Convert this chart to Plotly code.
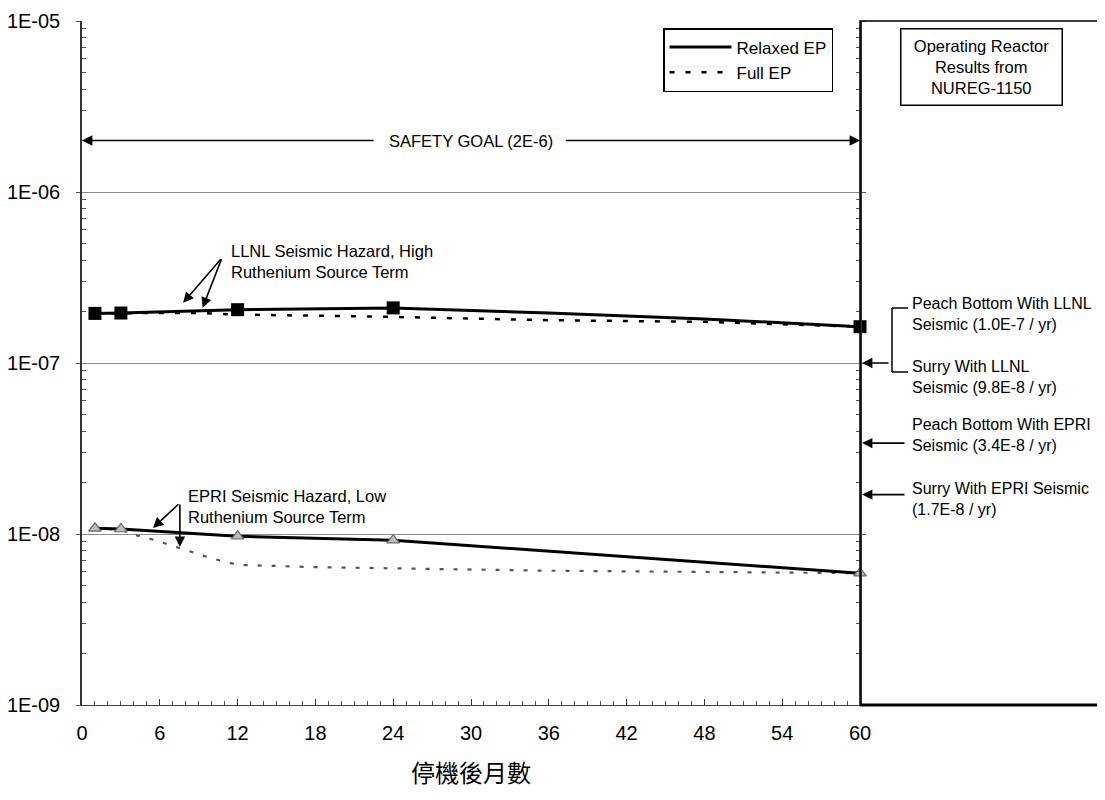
import math
import plotly.graph_objects as go

# ---------------- data ----------------
# Upper group: LLNL seismic hazard, high ruthenium source term
llnl_relaxed_months = [1, 3, 12, 24, 36, 48, 60]
llnl_relaxed_vals = [1.95e-7, 1.96e-7, 2.05e-7, 2.10e-7, 1.96e-7, 1.81e-7, 1.63e-7]
llnl_marker_months = [1, 3, 12, 24, 60]
llnl_marker_vals = [1.95e-7, 1.96e-7, 2.05e-7, 2.10e-7, 1.63e-7]
llnl_full_months = [1, 3, 6, 9, 12, 24, 36, 48, 54, 60]
llnl_full_vals = [1.95e-7, 1.96e-7, 1.96e-7, 1.96e-7, 1.92e-7, 1.86e-7, 1.78e-7, 1.74e-7, 1.69e-7, 1.63e-7]

# Lower group: EPRI seismic hazard, low ruthenium source term
epri_relaxed_months = [1, 3, 12, 24, 60]
epri_relaxed_vals = [1.08e-8, 1.07e-8, 9.7e-9, 9.2e-9, 5.9e-9]
epri_full_months = [1, 3, 4, 5, 6, 7, 8, 9, 10, 11, 12, 18, 24, 36, 48, 60]
epri_full_vals = [1.08e-8, 1.06e-8, 9.9e-9, 9.5e-9, 9.0e-9, 8.5e-9, 8.1e-9, 7.6e-9,
                  7.2e-9, 6.9e-9, 6.6e-9, 6.4e-9, 6.3e-9, 6.1e-9, 6.0e-9, 5.9e-9]

safety_goal = 2e-6
nureg_labels = [
    "Peach Bottom With LLNL<br>Seismic (1.0E-7 / yr)",
    "Surry With LLNL<br>Seismic (9.8E-8 / yr)",
    "Peach Bottom With EPRI<br>Seismic (3.4E-8 / yr)",
    "Surry With EPRI Seismic<br>(1.7E-8 / yr)",
]
nureg_arrow_vals = [1.0e-7, 3.4e-8, 1.7e-8]

x_ticks = list(range(0, 61, 6))
y_decades = [1e-9, 1e-8, 1e-7, 1e-6, 1e-5]
y_decade_text = ["1E-09", "1E-08", "1E-07", "1E-06", "1E-05"]
y_minors = [m * d for d in y_decades[:-1] for m in range(2, 10)]

# ---------------- layout geometry ----------------
# the page body adds an 8px offset, so the figure is sized/placed to compensate
OFF = 8
W, H = 1105 - OFF, 800 - OFF
L, R, T, B = 82 - OFF, 5, 21 - OFF, 95
PW = W - L - R          # 1018
PH = H - T - B          # 684
X_END = (860 - 82) / PW  # x-domain end (month 60)

def px_x(px):   # screen pixel -> paper
    return (px - 82) / PW

def px_y(py):
    return (705 - py) / PH

FONT = "Arial, Liberation Sans, sans-serif"
TXT = 16.5

fig = go.Figure()

# lines
fig.add_trace(go.Scatter(x=llnl_relaxed_months, y=llnl_relaxed_vals, mode="lines",
                         line=dict(color="black", width=3), name="Relaxed EP",
                         legendgroup="a", showlegend=True, hoverinfo="skip"))
fig.add_trace(go.Scatter(x=llnl_full_months, y=llnl_full_vals, mode="lines",
                         line=dict(color="black", width=2.5, dash="5px,11px"), name="Full EP",
                         legendgroup="b", showlegend=True, hoverinfo="skip"))
fig.add_trace(go.Scatter(x=epri_full_months, y=epri_full_vals, mode="lines",
                         line=dict(color="#555555", width=2.2, dash="4px,10px"),
                         showlegend=False, hoverinfo="skip"))
fig.add_trace(go.Scatter(x=epri_relaxed_months, y=epri_relaxed_vals, mode="lines",
                         line=dict(color="black", width=3),
                         showlegend=False, hoverinfo="skip"))
# markers
fig.add_trace(go.Scatter(x=llnl_marker_months, y=llnl_marker_vals, mode="markers",
                         marker=dict(symbol="square", size=13, color="black"),
                         cliponaxis=False, showlegend=False, hoverinfo="skip"))
fig.add_trace(go.Scatter(x=epri_relaxed_months, y=epri_relaxed_vals, mode="markers",
                         marker=dict(symbol="triangle-up", size=11, color="#bdbdbd",
                                     line=dict(color="#666666", width=1.2)),
                         cliponaxis=False, showlegend=False, hoverinfo="skip"))

annotations = []

def arrow(x_head, y_head, x_tail, y_tail, **kw):
    d = dict(x=x_head, y=y_head, ax=x_tail, ay=y_tail, xref="x", yref="y",
             axref="x", ayref="y", text="", showarrow=True, arrowhead=2,
             arrowsize=1.3, arrowwidth=1.6, arrowcolor="black", standoff=0)
    d.update(kw)
    annotations.append(d)

# safety goal
sg = math.log10(safety_goal)
arrow(0, sg, 22.6, sg)
arrow(60, sg, 37.2, sg)
annotations.append(dict(x=30, y=sg, xref="x", yref="y", text="SAFETY GOAL (2E-6)",
                        showarrow=False, font=dict(family=FONT, size=TXT, color="black")))

# LLNL label & arrows
arrow(7.8, -6.648, 10.8, -6.384)
arrow(9.3, -6.677, 10.8, -6.384)
annotations.append(dict(x=11.3, y=-6.408, xref="x", yref="y", xanchor="left", yanchor="middle",
                        align="left", showarrow=False,
                        text="LLNL Seismic Hazard, High<br>Ruthenium Source Term",
                        font=dict(family=FONT, size=TXT, color="black")))

# EPRI label & arrows
arrow(5.47, -7.965, 7.55, -7.818)
arrow(7.55, -8.076, 7.55, -7.818)
annotations.append(dict(x=8.0, y=-7.842, xref="x", yref="y", xanchor="left", yanchor="middle",
                        align="left", showarrow=False,
                        text="EPRI Seismic Hazard, Low<br>Ruthenium Source Term",
                        font=dict(family=FONT, size=TXT, color="black")))

# NUREG arrows (point to axis at month 60)
for v, off in zip(nureg_arrow_vals, [30, 46, 46]):
    annotations.append(dict(x=60, y=math.log10(v), xref="x", yref="y", ax=off, ay=0,
                            text="", showarrow=True, arrowhead=2, arrowsize=1.3,
                            arrowwidth=1.6, arrowcolor="black", standoff=2))

# NUREG labels
for lab, py in zip(nureg_labels, [313.5, 377.5, 435, 499]):
    annotations.append(dict(x=px_x(910), y=px_y(py), xref="paper", yref="paper",
                            xanchor="left", yanchor="middle", align="left", showarrow=False,
                            text=lab, font=dict(family=FONT, size=16, color="black")))

# NUREG box
annotations.append(dict(x=px_x(981), y=px_y(28), xref="paper", yref="paper",
                        xanchor="center", yanchor="top", showarrow=False, align="center",
                        text="Operating Reactor<br>Results from<br>NUREG-1150",
                        width=158, height=73, borderpad=1,
                        bordercolor="black", borderwidth=1.5, bgcolor="white",
                        font=dict(family=FONT, size=TXT, color="black")))

shapes = [
    # right panel box
    dict(type="rect", xref="paper", yref="paper", x0=X_END, x1=1, y0=0, y1=1,
         line=dict(color="black", width=1.5)),
    dict(type="line", xref="paper", yref="paper", x0=X_END, x1=1, y0=0, y1=0,
         line=dict(color="black", width=3)),
    # bracket
    dict(type="line", xref="paper", yref="paper", x0=px_x(892), x1=px_x(892),
         y0=px_y(308), y1=px_y(372), line=dict(color="black", width=1.5)),
    dict(type="line", xref="paper", yref="paper", x0=px_x(892), x1=px_x(908),
         y0=px_y(308), y1=px_y(308), line=dict(color="black", width=1.5)),
    dict(type="line", xref="paper", yref="paper", x0=px_x(892), x1=px_x(908),
         y0=px_y(372), y1=px_y(372), line=dict(color="black", width=1.5)),
]

fig.update_layout(
    width=W, height=H,
    margin=dict(l=L, r=R, t=T, b=B, autoexpand=False),
    paper_bgcolor="white", plot_bgcolor="white",
    font=dict(family=FONT, color="black"),
    showlegend=True,
    legend=dict(x=px_x(663), y=px_y(28), xanchor="left", yanchor="top",
                bgcolor="white", bordercolor="black", borderwidth=1.5,
                font=dict(family=FONT, size=17, color="black"),
                itemwidth=62, tracegroupgap=0),
    xaxis=dict(domain=[0, X_END], range=[0, 60], tickmode="array", tickvals=x_ticks,
               ticks="inside", ticklen=6, tickcolor="#333", showgrid=False, zeroline=False,
               showline=True, linecolor="#444", linewidth=1.2, automargin=False,
               minor=dict(dtick=1, tick0=0, ticks="inside", ticklen=4, tickcolor="#555"),
               tickfont=dict(family=FONT, size=20, color="black"), ticklabelstandoff=10,
               title=dict(text="停機後月數", standoff=22,
                          font=dict(family="Noto Sans CJK TC", size=24, color="black"))),
    yaxis=dict(type="log", range=[-9, -5], tickmode="array", tickvals=y_decades,
               ticktext=y_decade_text, ticks="outside", ticklen=4, tickcolor="#555",
               showgrid=True, gridcolor="#8a8a8a", gridwidth=1.2, zeroline=False,
               showline=True, linecolor="#333", linewidth=1.5, mirror="ticks",
               automargin=False,
               minor=dict(tickvals=y_minors, ticks="inside", ticklen=4, tickcolor="#555",
                          showgrid=False),
               tickfont=dict(family=FONT, size=20, color="black"), ticklabelstandoff=12),
    yaxis2=dict(type="log", range=[-9, -5], overlaying="y", side="right", anchor="x",
                tickmode="array", tickvals=y_minors + y_decades, ticks="outside",
                ticklen=5, tickcolor="#555", showticklabels=False, showgrid=False,
                zeroline=False, showline=False, automargin=False),
    annotations=annotations,
    shapes=shapes,
)

fig.write_html("out.html")
